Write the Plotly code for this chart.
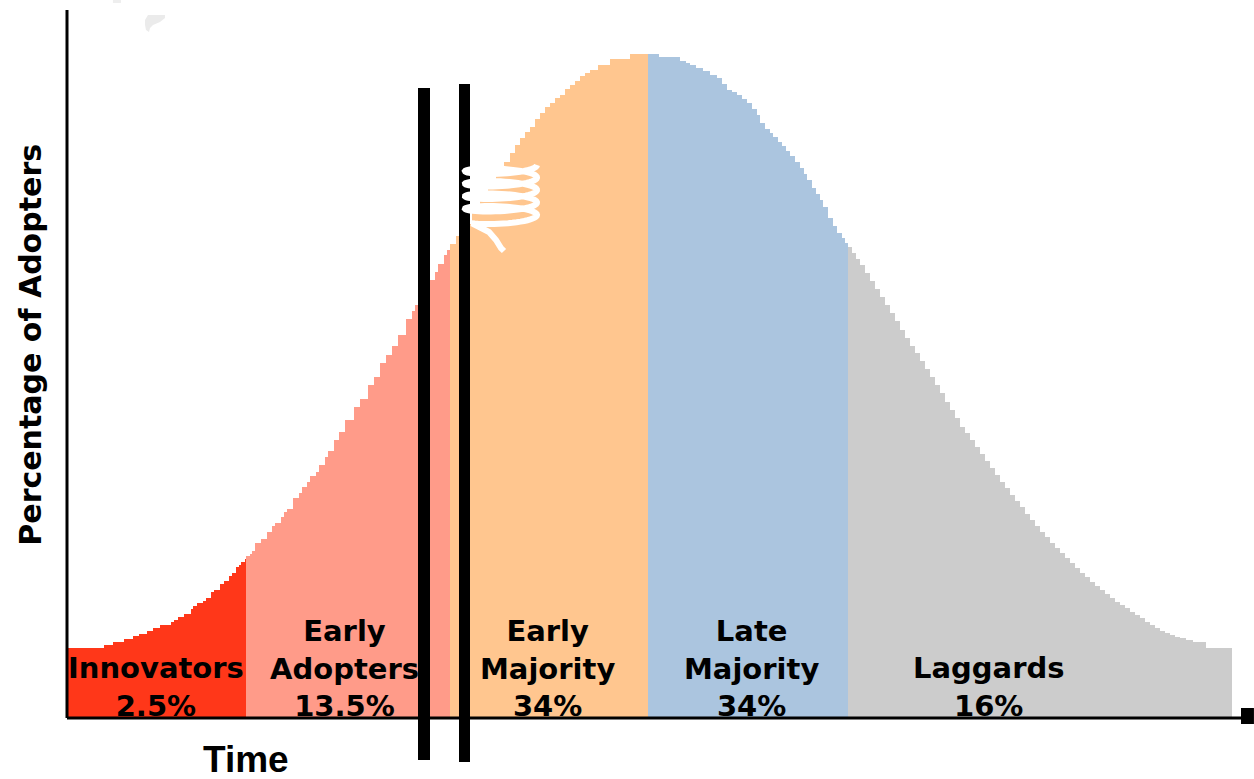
import numpy as np
import plotly.graph_objects as go

# Adopter categories, their share of the population and fill colours
categories = ["Innovators", "Early Adopters", "Early Majority", "Late Majority", "Laggards"]
shares = [2.5, 13.5, 34, 34, 16]
colors = ["#FF3719", "#FF9B89", "#FFC68F", "#ABC5DF", "#CCCCCC"]

# Segment edges along the time axis
boundaries = [0.0, 17.9, 38.3, 58.1, 78.1, 116.5]

# Adoption curve, stepped: time / level for each category
innov_t = [0.0, 3.7, 4.6, 5.7, 6.6, 7.2, 8.0, 8.6, 9.3, 10.4, 10.7, 11.1, 11.7, 12.4,
           12.6, 13.0, 13.6, 13.9, 14.4, 14.7, 15.3, 15.7, 16.2, 16.5, 16.9, 17.2, 17.4, 17.8]
innov_y = [7.0, 7.3, 7.6, 7.9, 8.2, 8.4, 8.7, 9.0, 9.3, 9.6, 9.8, 10.1, 10.4, 10.9,
           11.2, 11.5, 11.7, 12.0, 12.6, 12.8, 13.4, 13.7, 14.2, 14.5, 15.1, 15.3, 15.6, 15.9]

early_ad_t = [17.9, 18.3, 18.5, 18.8, 19.4, 20.0, 20.5, 20.8, 21.4, 21.7,
              22.0, 22.6, 23.2, 23.5, 24.0, 24.3, 24.9, 25.2, 25.8, 26.1,
              26.7, 27.2, 27.8, 28.7, 29.3, 30.1, 30.7, 31.3, 31.9, 32.5,
              33.1, 33.9, 34.5, 34.8, 35.1, 35.7, 36.3, 36.8, 37.1, 37.7, 38.0]
early_ad_y = [16.2, 16.4, 16.7, 17.5, 17.9, 18.6, 19.2, 19.5, 20.1, 20.6,
              20.9, 22.0, 22.5, 23.1, 23.6, 24.2, 24.6, 25.3, 26.1, 26.7,
              27.8, 28.6, 29.8, 31.1, 31.9, 33.3, 34.1, 35.5, 36.3, 37.2,
              38.3, 39.9, 40.7, 41.3, 42.0, 42.8, 43.8, 44.6, 45.4, 46.3, 46.8]

early_maj_t = [38.3, 38.9, 39.7, 40.5, 41.3, 42.1, 42.9, 43.7, 44.3, 44.8,
               45.3, 45.8, 46.3, 46.8, 47.3, 47.8, 48.3, 48.8, 49.3, 49.8,
               50.3, 50.8, 51.3, 51.8, 52.3, 53.1, 54.3, 56.3]
early_maj_y = [47.4, 48.2, 49.4, 50.8, 52.0, 53.2, 54.4, 55.6, 56.5, 57.3,
               58.0, 58.6, 59.1, 59.9, 60.5, 61.1, 61.5, 62.0, 62.3, 62.9,
               63.3, 63.7, 64.2, 64.5, 64.8, 65.3, 65.9, 66.4]

late_maj_t = [58.1, 59.2, 61.3, 61.9, 62.3, 62.9, 63.6, 64.3, 65.0, 65.5,
              66.0, 66.5, 67.0, 67.5, 68.0, 68.5, 69.0, 69.3, 69.8, 70.3,
              70.6, 71.1, 71.5, 71.9, 72.3, 72.8, 73.3, 73.7, 74.0, 74.5,
              74.9, 75.3, 75.6, 76.1, 76.6, 77.0, 77.5, 77.8]
late_maj_y = [66.4, 66.1, 65.7, 65.5, 65.3, 65.0, 64.7, 64.3, 64.0, 63.4,
              62.8, 62.6, 62.3, 61.9, 61.5, 60.9, 60.3, 59.5, 58.9, 58.5,
              58.1, 57.6, 57.2, 56.7, 56.2, 55.6, 55.0, 54.4, 53.8, 53.0,
              52.4, 51.8, 51.1, 50.0, 49.2, 48.5, 48.0, 47.5]

laggard_t = [78.1, 78.5, 78.9, 79.3, 79.8, 80.3, 80.8, 81.3, 81.8, 82.3,
             82.8, 83.3, 83.8, 84.3, 84.8, 85.3, 85.8, 86.3, 86.8, 87.3,
             87.8, 88.3, 88.8, 89.3, 89.8, 90.3, 90.8, 91.3, 91.8, 92.3,
             92.8, 93.3, 93.8, 94.3, 94.8, 95.3, 95.8, 96.3, 96.8, 97.3,
             97.8, 98.3, 98.8, 99.3, 99.8, 100.3, 100.8, 101.3, 101.8, 102.3,
             102.8, 103.3, 103.8, 104.3, 104.8, 105.3, 105.8, 106.3, 106.8, 107.3,
             107.8, 108.3, 108.8, 109.3, 109.8, 110.3, 110.8, 111.3, 111.9, 112.6, 113.9]
laggard_y = [47.1, 46.5, 45.9, 45.3, 44.5, 43.7, 42.9, 42.1, 41.3, 40.5,
             39.7, 38.8, 38.0, 37.2, 36.5, 35.7, 34.9, 34.1, 33.3, 32.5,
             31.6, 30.8, 30.0, 29.1, 28.5, 27.8, 27.1, 26.4, 25.7, 25.0,
             24.3, 23.6, 23.0, 22.3, 21.7, 21.1, 20.4, 19.8, 19.2, 18.6,
             18.1, 17.5, 17.0, 16.5, 16.0, 15.5, 15.0, 14.5, 14.1, 13.6,
             13.2, 12.8, 12.4, 12.0, 11.6, 11.3, 11.0, 10.6, 10.3, 10.0,
             9.6, 9.3, 9.0, 8.7, 8.5, 8.3, 8.1, 8.0, 7.8, 7.6, 7.0]

segments = [(innov_t, innov_y), (early_ad_t, early_ad_y), (early_maj_t, early_maj_y),
            (late_maj_t, late_maj_y), (laggard_t, laggard_y)]

X_RANGE = [0, 117.8]
Y_RANGE = [0, 70.8]

fig = go.Figure()

for i, (t, y) in enumerate(segments):
    # extend the last step to the segment's right edge
    xs = list(t) + [boundaries[i + 1]]
    ys = list(y) + [y[-1]]
    fig.add_trace(go.Scatter(
        x=xs, y=ys, mode="lines", line=dict(width=0, shape="hv", color=colors[i]),
        fill="tozeroy", fillcolor=colors[i], name=categories[i],
        hoverinfo="skip", showlegend=False,
    ))

# Category labels
label_x = [8.9, 27.7, 48.0, 68.4, 92.1]
label_names = ["Innovators", "Early<br>Adopters", "Early<br>Majority", "Late<br>Majority", "Laggards"]
label_font = dict(family="DejaVu Sans", size=29, color="black", weight="bold")
annotations = []
for lx, name, s in zip(label_x, label_names, shares):
    annotations.append(dict(
        x=lx, y=0, xref="x", yref="y", text=f"{name}<br>{s:g}%",
        showarrow=False, xanchor="center", yanchor="bottom", align="center",
        font=label_font, yshift=-7,
    ))

# Axis titles
annotations.append(dict(
    x=0.152, y=-0.058, xref="paper", yref="paper", text="Time", showarrow=False,
    xanchor="center", yanchor="middle",
    font=dict(family="Liberation Sans", size=37, color="black", weight="bold"),
))
annotations.append(dict(
    x=-0.031, y=0.528, xref="paper", yref="paper", text="Percentage of Adopters",
    showarrow=False, textangle=-90, xanchor="center", yanchor="middle",
    font=dict(family="DejaVu Sans", size=30, color="black", weight="bold"),
))

shapes = []
# Axis lines and arrow tip
shapes.append(dict(type="line", xref="paper", yref="paper", x0=0, x1=0, y0=0, y1=1,
                   line=dict(color="black", width=3), layer="above"))
shapes.append(dict(type="line", xref="paper", yref="paper", x0=0, x1=0.997, y0=0, y1=0,
                   line=dict(color="black", width=3), layer="above"))
shapes.append(dict(type="rect", xref="paper", yref="paper", x0=0.9966, x1=1.0076,
                   y0=-0.0085, y1=0.0141, fillcolor="black", line=dict(width=0), layer="above"))

# Two thick markers around the chasm
for bx, bw, top, bottom in [(35.7, 12, 0.8898, -0.0593), (39.75, 11, 0.8955, -0.0621)]:
    xp = bx / X_RANGE[1]
    shapes.append(dict(type="line", xref="paper", yref="paper", x0=xp, x1=xp,
                       y0=bottom, y1=top, line=dict(color="black", width=bw), layer="above"))

# White scribble (a coil with a short tail) over the early-majority slope
coil_cx, coil_rx, coil_ry = 43.4, 3.6, 0.55
coil_top, coil_pitch, coil_turns = 55.3, 1.25, 4.4
theta = np.linspace(0, coil_turns * 2 * np.pi, 220)
sx = coil_cx + coil_rx * np.cos(theta)
sy = coil_top - coil_pitch * theta / (2 * np.pi) - coil_ry * np.sin(theta)
pts = list(zip(sx, sy)) + [(42.2, 48.6), (42.9, 47.8), (43.4, 47.0), (43.7, 46.7)]
path = "M " + " L ".join(f"{px:.3f},{py:.3f}" for px, py in pts)
shapes.append(dict(type="path", xref="x", yref="y", path=path,
                   line=dict(color="white", width=6), layer="above"))

# Faint smudges at the top
shapes.append(dict(type="path", xref="x", yref="y",
                   path="M 7.8,69.8 L 8.1,70.3 L 9.8,70.3 L 9.8,70.0 L 9.3,69.6 L 8.6,69.3 "
                        "L 8.3,69.0 L 8.2,68.6 L 7.9,68.8 L 7.8,69.3 Z",
                   fillcolor="#EBEBEB", line=dict(width=0), layer="above"))
shapes.append(dict(type="rect", xref="paper", yref="paper", x0=0.039, x1=0.0458,
                   y0=1.0099, y1=1.0141, fillcolor="#EEEEEE", line=dict(width=0)))

fig.update_layout(
    width=1254, height=779, autosize=False,
    margin=dict(l=67, r=9, t=10, b=61, pad=0),
    paper_bgcolor="white", plot_bgcolor="white",
    xaxis=dict(range=X_RANGE, visible=False, fixedrange=True),
    yaxis=dict(range=Y_RANGE, visible=False, fixedrange=True),
    annotations=annotations, shapes=shapes, showlegend=False,
)

fig.write_html("out.html")
